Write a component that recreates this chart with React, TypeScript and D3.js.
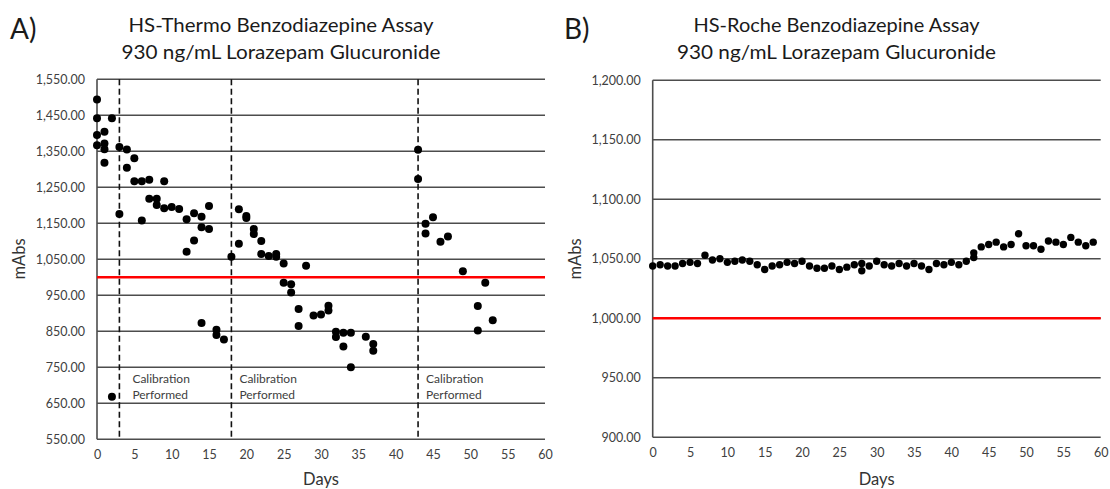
import React, { useEffect, useRef } from 'react'
import * as d3 from 'd3'

// A) HS-Thermo: day / mAbs pairs
const thermoDays = [
  0, 0, 0, 0, 1, 1, 1, 1, 2, 2, 3, 3, 4, 4, 5, 5, 6, 6, 7, 7, 8, 8, 9, 9, 10, 11,
  12, 12, 13, 13, 14, 14, 14, 15, 15, 16, 16, 17, 18, 19, 19, 20, 20, 21, 21, 22, 22,
  23, 24, 24, 25, 25, 26, 26, 27, 27, 28, 29, 30, 31, 31, 32, 32, 33, 33, 34, 34, 36,
  37, 37, 43, 43, 44, 44, 45, 46, 47, 49, 51, 51, 52, 53
]
const thermoValues = [
  1494, 1442, 1395, 1367, 1404, 1372, 1356, 1318, 1442, 668, 1362, 1176, 1355, 1304,
  1331, 1267, 1267, 1158, 1271, 1218, 1218, 1201, 1267, 1192, 1195, 1190,
  1161, 1071, 1178, 1102, 1168, 1139, 873, 1198, 1134, 854, 840, 827, 1057, 1189, 1093,
  1170, 1165, 1134, 1120, 1101, 1065,
  1059, 1065, 1057, 1038, 985, 981, 958, 912, 865, 1032, 894, 897, 921, 908, 849, 834,
  846, 808, 846, 750, 835,
  815, 796, 1354, 1273, 1149, 1122, 1167, 1099, 1113, 1017, 920, 852, 985, 881
]
const thermoTicks = [550, 650, 750, 850, 950, 1050, 1150, 1250, 1350, 1450, 1550]
const calibrationDays = [3, 18, 43]

// B) HS-Roche
const rocheDays = [
  0, 1, 2, 3, 4, 5, 6, 7, 8, 9, 10, 11, 12, 13, 14, 15, 16, 17, 18, 19, 20, 21, 22, 23,
  24, 25, 26, 27, 28, 28, 29, 30, 31, 32, 33, 34, 35, 36, 37, 38, 39, 40, 41, 42, 43, 43,
  44, 45, 46, 47, 48, 49, 50, 51, 52, 53, 54, 55, 56, 57, 58, 59
]
const rocheValues = [
  1044, 1045, 1044, 1044, 1046, 1047, 1046, 1053, 1049, 1050, 1047, 1048, 1049, 1048,
  1045, 1041, 1044, 1045, 1047, 1046, 1048, 1044, 1042, 1042,
  1044, 1041, 1043, 1045, 1046, 1040, 1044, 1048, 1045, 1044, 1046, 1044, 1046, 1044,
  1041, 1046, 1045, 1047, 1045, 1048, 1055, 1051,
  1060, 1062, 1064, 1060, 1062, 1071, 1061, 1061, 1058, 1065, 1064, 1062, 1068, 1064,
  1061, 1064
]
const rocheTicks = [900, 950, 1000, 1050, 1100, 1150, 1200]

const dayTicks = [0, 5, 10, 15, 20, 25, 30, 35, 40, 45, 50, 55, 60]
const cutoff = 1000

const FONT = 'Lato, "Open Sans", sans-serif'

function drawPanel (svg, p) {
  const x = d3.scaleLinear().domain([0, 60]).range([p.left, p.left + 448])
  const y = d3.scaleLinear()
    .domain([p.yTicks[0], p.yTicks[p.yTicks.length - 1]])
    .range([p.bottom, p.top])
  const g = svg.append('g')

  // 标题
  const title = g.append('text')
    .attr('text-anchor', 'middle')
    .attr('font-size', 20)
    .attr('fill', '#1a1a1a')
  title.append('tspan').attr('x', p.titleX).attr('y', 32)
    .attr('textLength', p.titleW1).attr('lengthAdjust', 'spacingAndGlyphs')
    .text(p.title)
  title.append('tspan').attr('x', p.titleX).attr('y', 58.5)
    .attr('textLength', 319).attr('lengthAdjust', 'spacingAndGlyphs')
    .text('930 ng/mL Lorazepam Glucuronide')

  g.append('text')
    .attr('x', p.letterX).attr('y', 39)
    .attr('font-size', 28)
    .attr('fill', '#1a1a1a')
    .text(p.letter)

  // 水平网格线
  g.selectAll('.grid').data(p.yTicks).enter().append('line')
    .attr('x1', x(0)).attr('x2', x(60))
    .attr('y1', d => y(d)).attr('y2', d => y(d))
    .attr('stroke', '#4d4d4d').attr('stroke-width', 1.4)

  g.append('line')
    .attr('x1', x(0)).attr('x2', x(0))
    .attr('y1', y.range()[1]).attr('y2', y.range()[0])
    .attr('stroke', '#4d4d4d').attr('stroke-width', 1.6)

  // 坐标轴文字
  const yAxis = d3.axisLeft(y).tickValues(p.yTicks)
    .tickFormat(d3.format(',.2f')).tickSize(0).tickPadding(12)
  const ya = g.append('g').attr('transform', `translate(${x(0)},0)`).call(yAxis)
  ya.select('.domain').remove()
  ya.selectAll('text').attr('font-size', 12.5).attr('fill', '#404040').attr('font-family', FONT)

  const xAxis = d3.axisBottom(x).tickValues(dayTicks).tickSize(0).tickPadding(11)
  const xa = g.append('g').attr('transform', `translate(0,${p.bottom})`).call(xAxis)
  xa.select('.domain').remove()
  xa.selectAll('text').attr('font-size', 12.5).attr('fill', '#404040').attr('font-family', FONT)

  g.append('text')
    .attr('x', (x(0) + x(60)) / 2).attr('y', 485)
    .attr('text-anchor', 'middle').attr('font-size', 16.5).attr('fill', '#333')
    .text('Days')
  g.append('text')
    .attr('transform', `translate(${p.left - 72},259) rotate(-90)`)
    .attr('text-anchor', 'middle').attr('font-size', 16.5).attr('fill', '#333')
    .text('mAbs')

  // cutoff 红线
  g.append('line')
    .attr('x1', x(0)).attr('x2', x(60))
    .attr('y1', y(cutoff)).attr('y2', y(cutoff))
    .attr('stroke', '#ff0000').attr('stroke-width', 2.6)

  // 校准竖线
  const cal = p.calibration || []
  g.selectAll('.cal').data(cal).enter().append('line')
    .attr('x1', d => x(d)).attr('x2', d => x(d))
    .attr('y1', y.range()[1]).attr('y2', y.range()[0])
    .attr('stroke', '#111').attr('stroke-width', 1.6)
    .attr('stroke-dasharray', '6,3.5')
  const calText = g.selectAll('.calText').data(cal).enter().append('text')
    .attr('font-size', 12).attr('fill', '#404040')
  calText.append('tspan')
    .attr('x', (d, i) => x(d) + (i === 0 ? 13 : 8)).attr('y', 383)
    .text('Calibration')
  calText.append('tspan')
    .attr('x', (d, i) => x(d) + (i === 0 ? 13 : 8)).attr('y', 399)
    .text('Performed')

  // 散点
  g.selectAll('.dot').data(p.days).enter().append('circle')
    .attr('cx', d => x(d))
    .attr('cy', (d, i) => y(p.values[i]))
    .attr('r', p.r)
    .attr('fill', '#000')
}

export default function App () {
  const ref = useRef(null)

  useEffect(() => {
    const svg = d3.select(ref.current)
    svg.selectAll('*').remove()

    drawPanel(svg, {
      left: 97, top: 79.3, bottom: 439.3,
      yTicks: thermoTicks, days: thermoDays, values: thermoValues,
      calibration: calibrationDays, r: 4,
      title: 'HS-Thermo Benzodiazepine Assay', titleX: 281, titleW1: 305,
      letter: 'A)', letterX: 10
    })
    drawPanel(svg, {
      left: 652.7, top: 80.3, bottom: 437.3,
      yTicks: rocheTicks, days: rocheDays, values: rocheValues,
      calibration: [], r: 3.7,
      title: 'HS-Roche Benzodiazepine Assay', titleX: 836.5, titleW1: 286,
      letter: 'B)', letterX: 564
    })
  }, [])

  return (
    <svg ref={ref} width={1110} height={489}
      style={{ position: 'absolute', left: 0, top: 0, background: '#fff', fontFamily: FONT }} />
  )
}
